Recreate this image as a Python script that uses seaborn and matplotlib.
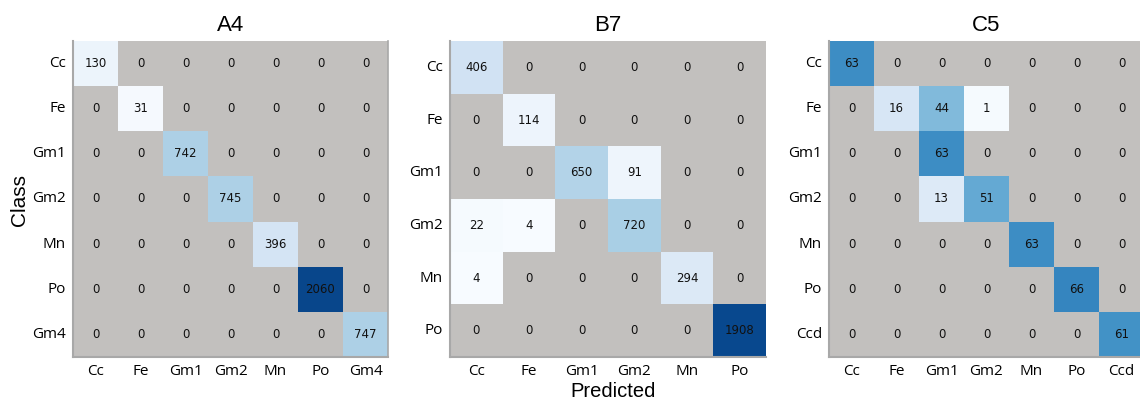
import numpy as np
import pandas as pd
import matplotlib
matplotlib.use("Agg")
import matplotlib.pyplot as plt
from matplotlib.colors import ListedColormap
import seaborn as sns

# Confusion matrices for three sites (rows = true class, columns = predicted)
titles = ["A4", "B7", "C5"]

labels_a4 = ["Cc", "Fe", "Gm1", "Gm2", "Mn", "Po", "Gm4"]
counts_a4 = [
    [130, 0, 0, 0, 0, 0, 0],
    [0, 31, 0, 0, 0, 0, 0],
    [0, 0, 742, 0, 0, 0, 0],
    [0, 0, 0, 745, 0, 0, 0],
    [0, 0, 0, 0, 396, 0, 0],
    [0, 0, 0, 0, 0, 2060, 0],
    [0, 0, 0, 0, 0, 0, 747],
]

labels_b7 = ["Cc", "Fe", "Gm1", "Gm2", "Mn", "Po"]
counts_b7 = [
    [406, 0, 0, 0, 0, 0],
    [0, 114, 0, 0, 0, 0],
    [0, 0, 650, 91, 0, 0],
    [22, 4, 0, 720, 0, 0],
    [4, 0, 0, 0, 294, 0],
    [0, 0, 0, 0, 0, 1908],
]

labels_c5 = ["Cc", "Fe", "Gm1", "Gm2", "Mn", "Po", "Ccd"]
counts_c5 = [
    [63, 0, 0, 0, 0, 0, 0],
    [0, 16, 44, 1, 0, 0, 0],
    [0, 0, 63, 0, 0, 0, 0],
    [0, 0, 13, 51, 0, 0, 0],
    [0, 0, 0, 0, 63, 0, 0],
    [0, 0, 0, 0, 0, 66, 0],
    [0, 0, 0, 0, 0, 0, 61],
]

# upper end of the colour scale for each matrix
color_max = [2250, 2100, 98]

sns.set_theme(style="white")
plt.rcParams["font.family"] = ["DejaVu Sans"]
plt.rcParams["text.color"] = "black"
plt.rcParams["xtick.color"] = "black"
plt.rcParams["ytick.color"] = "black"

W, H = 1140, 399
fig = plt.figure(figsize=(W / 100, H / 100), dpi=100)

# axes boxes in pixels: (left, right, top, bottom)
boxes = [(73, 388, 41, 357), (450, 766, 41, 357), (829, 1144, 41, 357)]

panels = [
    (labels_a4, counts_a4),
    (labels_b7, counts_b7),
    (labels_c5, counts_c5),
]

zero_cmap = ListedColormap(["#c2c0be"])
tick_font = ["Open Sans"]
annot_style = {"fontsize": 8.5, "color": "#111111"}

for i, ((labels, counts), box) in enumerate(zip(panels, boxes)):
    l, r, t, b = box
    ax = fig.add_axes([l / W, (H - b) / H, (r - l) / W, (b - t) / H])
    df = pd.DataFrame(counts, index=labels, columns=labels)
    zero = df.values == 0

    # zero cells: flat gray with their counts
    sns.heatmap(df, mask=~zero, cmap=zero_cmap, cbar=False, annot=True, fmt="d",
                annot_kws=annot_style, ax=ax)
    # non-zero cells: Blues colour scale
    sns.heatmap(df, mask=zero, cmap="Blues", vmin=0, vmax=color_max[i], cbar=False,
                annot=True, fmt="d", annot_kws=annot_style, ax=ax)

    ax.set_title(titles[i], fontsize=16, family=["Liberation Sans"], pad=7,
                 color="black")
    ax.set_xlabel("")
    ax.set_ylabel("")
    ax.set_xticklabels(labels, rotation=0, fontsize=11, family=tick_font)
    ax.set_yticklabels(labels, rotation=0, fontsize=11, family=tick_font)
    ax.tick_params(axis="both", length=3, width=0.8, color="#aaaaaa", pad=2)
    ax.tick_params(axis="x", pad=2)

    for side in ["left", "bottom"]:
        ax.spines[side].set_visible(True)
        ax.spines[side].set_color("#a8a8a8")
        ax.spines[side].set_linewidth(1.5)
    if i == 0:
        ax.spines["right"].set_visible(True)
        ax.spines["right"].set_color("#a8a8a8")
        ax.spines["right"].set_linewidth(1.2)

fig.text(20 / W, 1 - 200 / H, "Class", rotation=90, ha="center", va="center",
         fontsize=15, family=["Liberation Sans"])
fig.text(613 / W, 1 - 397 / H, "Predicted", ha="center", va="baseline",
         fontsize=14.5, family=["Liberation Sans"])

fig.savefig("out.png", dpi=100)
